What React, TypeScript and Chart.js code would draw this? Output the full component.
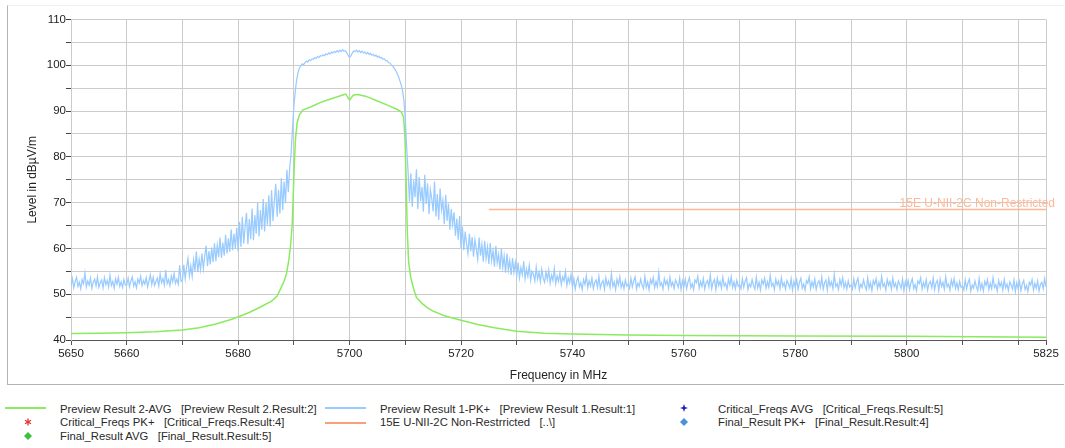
import React, { useEffect, useRef } from 'react';
import { Chart, registerables } from 'chart.js';

Chart.register(...registerables);

// Sweep definition of the peak trace
const PK_START_MHZ = 5650;
const PK_STEP_MHZ = 0.25;

// Preview Result 1-PK+ levels (dBµV/m), one value per 0.25 MHz from 5650 MHz (one row = 5 MHz)
const PK_LEVELS = [
  51.9, 53.4, 51.4, 52.8, 53.7, 51.7, 52.6, 51.2, 53.2, 52.3, 54.6, 51.6, 52.9, 52.0, 53.5, 51.3, 52.7, 53.3, 51.8, 53.8,
  51.5, 52.5, 53.1, 51.4, 53.6, 52.1, 53.0, 51.6, 54.1, 51.9, 52.8, 51.3, 53.4, 52.2, 53.7, 51.7, 52.7, 51.5, 53.2, 52.0,
  52.0, 53.5, 51.6, 52.9, 53.8, 51.8, 52.7, 51.4, 53.3, 52.4, 53.9, 51.9, 53.0, 52.2, 53.6, 51.6, 52.9, 54.2, 52.1, 53.7,
  51.9, 52.8, 53.5, 51.8, 54.4, 52.5, 53.4, 52.0, 55.3, 52.3, 53.2, 51.9, 54.0, 52.7, 54.5, 52.4, 53.3, 52.2, 56.3, 52.8,
  53.0, 56.4, 53.4, 55.9, 57.8, 54.0, 56.2, 53.9, 57.5, 55.1, 59.3, 54.8, 57.6, 55.4, 58.9, 55.6, 58.3, 60.6, 56.1, 59.4,
  56.5, 60.2, 57.0, 61.1, 57.2, 60.7, 58.1, 62.4, 57.9, 61.3, 58.4, 63.0, 58.9, 62.2, 59.3, 64.1, 59.6, 63.2, 60.1, 64.5,
  59.4, 65.8, 60.3, 66.9, 61.1, 64.7, 67.8, 60.9, 66.4, 62.0, 68.7, 61.8, 67.3, 63.2, 69.9, 62.6, 68.4, 64.1, 70.8, 63.7,
  69.9, 65.2, 71.6, 64.8, 72.7, 66.0, 70.4, 74.1, 66.9, 72.8, 67.6, 75.3, 68.4, 74.6, 69.9, 77.2, 72.3, 77.5, 80.6, 86.0,
  91.0, 94.3, 96.8, 98.4, 99.4, 99.9, 100.3, 100.1, 100.6, 100.9, 100.7, 101.2, 101.0, 101.4, 101.3, 101.7, 101.5, 101.9, 101.7, 102.1,
  102.0, 102.3, 102.1, 102.5, 102.3, 102.7, 102.5, 102.9, 102.7, 103.0, 102.8, 103.2, 102.9, 103.3, 103.0, 103.4, 103.1, 103.2, 102.7, 102.2,
  101.7, 102.1, 102.7, 103.1, 103.0, 103.3, 102.9, 103.2, 102.8, 103.1, 102.7, 102.9, 102.5, 102.8, 102.4, 102.6, 102.2, 102.4, 102.0, 102.2,
  101.8, 102.0, 101.6, 101.7, 101.3, 101.4, 101.0, 101.0, 100.6, 100.5, 100.1, 99.8, 99.4, 98.9, 98.3, 97.6, 96.7, 95.8, 94.5, 92.3,
  88.5, 82.0, 76.8, 70.2, 76.4, 69.1, 74.9, 71.2, 77.3, 68.6, 75.6, 70.3, 73.4, 68.0, 76.1, 69.7, 74.2, 67.5, 72.8, 70.9,
  68.1, 74.6, 67.0, 71.9, 66.2, 73.1, 68.4, 70.5, 65.3, 71.7, 66.0, 69.8, 64.1, 68.6, 65.2, 67.9, 62.8, 66.5, 61.9, 67.1,
  60.1, 64.8, 59.6, 63.7, 61.0, 58.9, 63.2, 59.4, 62.5, 58.2, 61.9, 59.8, 57.6, 62.4, 58.4, 60.9, 57.1, 61.6, 57.8, 60.3,
  56.6, 61.2, 57.3, 59.5, 56.0, 60.6, 56.8, 58.7, 55.4, 59.9, 55.9, 58.3, 54.7, 58.9, 55.3, 57.4, 54.2, 57.9, 54.8, 56.9,
  54.0, 56.9, 53.6, 55.8, 54.3, 57.2, 53.4, 55.5, 53.9, 56.3, 53.1, 55.0, 54.4, 52.9, 55.9, 53.3, 54.8, 52.7, 55.4, 53.5,
  52.6, 54.9, 53.2, 55.3, 52.4, 54.2, 53.0, 55.6, 52.3, 54.0, 52.8, 54.6, 52.1, 53.8, 52.9, 55.0, 51.9, 53.6, 52.5, 54.3,
  51.5, 53.4, 51.1, 52.8, 53.7, 51.6, 52.5, 51.0, 53.2, 52.1, 54.0, 51.4, 52.9, 51.8, 53.5, 51.2, 52.6, 53.1, 51.5, 53.9,
  51.3, 52.4, 53.0, 51.1, 53.6, 52.0, 52.9, 51.4, 54.5, 51.7, 52.7, 51.0, 53.3, 52.0, 53.8, 51.5, 52.6, 51.2, 53.1, 51.8,
  52.2, 51.3, 53.5, 51.6, 52.9, 53.8, 51.1, 52.4, 51.7, 53.3, 52.0, 51.2, 53.9, 51.5, 52.7, 51.0, 53.2, 52.3, 53.6, 51.4,
  52.8, 51.6, 54.7, 51.9, 52.5, 51.1, 53.4, 52.1, 53.0, 51.3, 53.7, 51.8, 52.6, 51.2, 53.1, 52.4, 51.5, 53.5, 51.0, 52.9,
  51.6, 53.3, 51.2, 52.7, 53.6, 51.4, 52.3, 51.0, 53.1, 52.5, 53.9, 51.3, 52.8, 51.7, 53.4, 51.1, 52.5, 53.0, 51.6, 54.2,
  51.2, 52.6, 53.2, 51.0, 53.5, 51.9, 52.8, 51.3, 53.7, 51.8, 52.4, 51.1, 53.3, 52.0, 53.8, 51.5, 52.7, 51.2, 53.0, 51.7,
  52.1, 51.2, 53.4, 51.5, 52.8, 53.6, 51.0, 52.3, 51.6, 53.2, 51.9, 51.1, 53.7, 51.4, 52.6, 50.9, 53.1, 52.2, 53.5, 51.3,
  52.7, 51.5, 54.1, 51.8, 52.4, 51.0, 53.3, 52.0, 52.9, 51.2, 53.6, 51.7, 52.5, 51.1, 53.0, 52.3, 51.4, 53.4, 50.9, 52.8,
  51.5, 53.2, 51.1, 52.6, 53.5, 51.3, 52.2, 50.9, 53.0, 52.4, 53.8, 51.2, 52.7, 51.6, 53.3, 51.0, 52.4, 52.9, 51.5, 53.7,
  51.1, 52.5, 53.1, 50.9, 53.4, 51.8, 52.7, 51.2, 54.3, 51.7, 52.3, 51.0, 53.2, 51.9, 53.6, 51.4, 52.6, 51.1, 52.9, 51.6,
  52.0, 51.1, 53.3, 51.4, 52.7, 53.5, 50.9, 52.2, 51.5, 53.1, 51.8, 51.0, 53.6, 51.3, 52.5, 50.8, 53.0, 52.1, 53.4, 51.2,
  52.6, 51.4, 53.9, 51.7, 52.3, 50.9, 53.2, 51.9, 52.8, 51.1, 53.5, 51.6, 52.4, 51.0, 52.9, 52.2, 51.3, 53.3, 50.8, 52.7,
  51.4, 53.0, 51.0, 52.5, 53.4, 51.2, 52.1, 50.8, 52.9, 52.3, 53.6, 51.1, 52.6, 51.5, 53.2, 50.9, 52.3, 52.8, 51.4, 53.5,
  51.0, 52.4, 53.0, 50.8, 53.3, 51.7, 52.6, 51.1, 53.8, 51.6, 52.2, 50.9, 53.1, 51.8, 53.4, 51.3, 52.5, 51.0, 52.8, 51.5,
  51.8, 50.9, 53.1, 51.2, 52.5, 53.3, 50.7, 52.0, 51.3, 52.9, 51.6, 50.8, 53.4, 51.1, 52.3, 50.7, 52.8, 51.9, 53.2, 51.0,
  52.4, 51.2, 53.6, 51.5, 52.1, 50.7, 53.0, 51.7, 52.6, 50.9, 53.2, 51.4, 52.2, 50.8, 52.7, 52.0, 51.1, 53.1, 50.6, 52.5,
  51.2, 52.8, 50.8, 52.3, 53.0, 51.0, 51.9, 50.6, 52.6, 52.0, 53.2, 50.9, 52.4, 51.3, 52.9, 50.7, 52.1, 52.6, 51.2, 53.4,
  51.6,
];

// Preview Result 2-AVG
const AVG_FREQS = [
  5650, 5655, 5660, 5665, 5670, 5673, 5676, 5679, 5682, 5684, 5686, 5687, 5687.7, 5688.3, 5688.7, 5689.1,
  5689.4, 5689.7, 5689.9, 5690.1, 5690.3, 5690.6, 5691, 5691.6, 5693, 5695, 5697, 5698.5, 5699.3, 5699.7,
  5700, 5700.3, 5700.7, 5701.5, 5703, 5705, 5707, 5708.5, 5709.3, 5709.7, 5709.95, 5710.15, 5710.35, 5710.6,
  5711, 5711.5, 5712, 5713, 5714, 5715, 5717, 5720, 5723, 5726, 5730, 5735, 5740, 5750, 5760, 5780, 5800, 5825,
];
const AVG_LEVELS = [
  41.4, 41.5, 41.6, 41.8, 42.2, 42.7, 43.5, 44.6, 46.0, 47.2, 48.5, 49.6, 51.4, 53.0, 54.6, 57.5,
  60.5, 65.0, 72.0, 79.0, 84.0, 87.5, 89.2, 90.2, 90.9, 92.0, 92.8, 93.4, 93.7, 93.0,
  92.4, 92.9, 93.5, 93.6, 93.2, 92.2, 91.2, 90.4, 89.8, 88.6, 84.0, 75.0, 64.0, 57.0,
  53.5, 51.2, 49.3, 48.0, 47.0, 46.3, 45.3, 44.3, 43.4, 42.7, 41.9, 41.5, 41.3, 41.1, 41.0, 40.9, 40.8, 40.6,
];

// Limit line
const LIMIT_NAME = '15E U-NII-2C Non-Restricted';
const LIMIT_FREQS = [5725, 5825];
const LIMIT_LEVELS = [68.5, 68.5];

// Axes
const X_MIN = 5650;
const X_MAX = 5825;
const X_TICKS = [5650, 5660, 5670, 5680, 5690, 5700, 5710, 5720, 5730, 5740, 5750, 5760, 5770, 5780, 5790, 5800, 5810, 5820, 5825];
const X_LABELS = [5650, 5660, 5680, 5700, 5720, 5740, 5760, 5780, 5800, 5825];
const Y_MIN = 40;
const Y_MAX = 110;
const Y_STEP = 5;
const Y_LABEL_STEP = 10;

const FONT = "'Liberation Sans', Arial, Helvetica, sans-serif";
const GREEN = 'rgb(138, 234, 96)';
const BLUE = 'rgb(153, 203, 255)';
const ORANGE = 'rgb(255, 184, 150)';
const ORANGE_LEGEND = 'rgb(248, 160, 120)';

const legendText: React.CSSProperties = {
  position: 'absolute',
  fontFamily: FONT,
  fontSize: '11.3px',
  lineHeight: '13px',
  color: '#2a2a2a',
  whiteSpace: 'pre',
};

function LineSym({ x, y, color, w }: { x: number; y: number; color: string; w: number }) {
  return <div style={{ position: 'absolute', left: x, top: y - w / 2, width: 41, height: w, background: color }} />;
}

function Diamond({ cx, cy, color }: { cx: number; cy: number; color: string }) {
  return (
    <svg style={{ position: 'absolute', left: cx - 5, top: cy - 5 }} width={10} height={10}>
      <polygon points="5,1 9,5 5,9 1,5" fill={color} />
    </svg>
  );
}

function Asterisk({ cx, cy, color }: { cx: number; cy: number; color: string }) {
  return (
    <svg style={{ position: 'absolute', left: cx - 5, top: cy - 5 }} width={10} height={10}>
      <g stroke={color} strokeWidth={1.3}>
        <line x1={5} y1={1.5} x2={5} y2={8.5} />
        <line x1={2} y1={3.3} x2={8} y2={6.7} />
        <line x1={2} y1={6.7} x2={8} y2={3.3} />
      </g>
    </svg>
  );
}

function Star({ cx, cy, color }: { cx: number; cy: number; color: string }) {
  return (
    <svg style={{ position: 'absolute', left: cx - 5, top: cy - 5 }} width={10} height={10}>
      <polygon points="5,1 6,4 9,5 6,6 5,9 4,6 1,5 4,4" fill={color} />
    </svg>
  );
}

export default function App() {
  const canvasRef = useRef<HTMLCanvasElement | null>(null);

  useEffect(() => {
    if (!canvasRef.current) return;
    const pkData = PK_LEVELS.map((v, i) => ({ x: PK_START_MHZ + i * PK_STEP_MHZ, y: v }));
    const avgData = AVG_FREQS.map((f, i) => ({ x: f, y: AVG_LEVELS[i] }));
    const limitData = LIMIT_FREQS.map((f, i) => ({ x: f, y: LIMIT_LEVELS[i] }));

    const limitLabel = {
      id: 'limitLabel',
      afterDatasetsDraw(chart: any) {
        const meta = chart.getDatasetMeta(2);
        const pts = meta.data;
        if (!pts || !pts.length) return;
        const last = pts[pts.length - 1];
        const ctx = chart.ctx;
        ctx.save();
        ctx.font = `12px ${FONT}`;
        ctx.fillStyle = ORANGE;
        ctx.textAlign = 'right';
        ctx.textBaseline = 'alphabetic';
        ctx.fillText(LIMIT_NAME, last.x + 9, last.y - 3);
        ctx.restore();
      },
    };

    const chart = new Chart(canvasRef.current, {
      type: 'line',
      data: {
        datasets: [
          { label: 'Preview Result 1-PK+', data: pkData, borderColor: BLUE, borderWidth: 1.25, pointRadius: 0, tension: 0 },
          { label: 'Preview Result 2-AVG', data: avgData, borderColor: GREEN, borderWidth: 1.5, pointRadius: 0, tension: 0 },
          { label: LIMIT_NAME, data: limitData, borderColor: ORANGE, borderWidth: 1.5, pointRadius: 0, tension: 0 },
        ],
      },
      options: {
        animation: false,
        responsive: false,
        maintainAspectRatio: false,
        events: [],
        layout: { padding: { left: 0, right: 19, top: 19.5, bottom: 0 } },
        plugins: { legend: { display: false }, tooltip: { enabled: false } },
        scales: {
          x: {
            type: 'linear',
            min: X_MIN,
            max: X_MAX,
            afterBuildTicks: (s: any) => {
              s.ticks = X_TICKS.map((v) => ({ value: v }));
            },
            afterFit: (s: any) => {
              s.height = 50;
            },
            ticks: {
              autoSkip: false,
              maxRotation: 0,
              minRotation: 0,
              padding: 2,
              color: '#222',
              font: { family: FONT, size: 11.5 },
              callback: (v: any) => (X_LABELS.includes(Number(v)) ? String(v) : ''),
            },
            grid: { color: '#cccccc', tickColor: '#555', tickLength: 5, lineWidth: 1 },
            border: { color: '#555', width: 1 },
            title: {
              display: true,
              text: 'Frequency in MHz',
              color: '#222',
              font: { family: FONT, size: 12 },
              padding: { top: 0, bottom: 7 },
            },
          },
          y: {
            type: 'linear',
            min: Y_MIN,
            max: Y_MAX,
            afterFit: (s: any) => {
              s.width = 71;
            },
            ticks: {
              stepSize: Y_STEP,
              padding: 0,
              color: '#222',
              font: { family: FONT, size: 11.5 },
              callback: (v: any) => (Number(v) % Y_LABEL_STEP === 0 ? String(v) : ''),
            },
            grid: { color: '#cccccc', tickColor: '#444', tickLength: 5, lineWidth: 1 },
            border: { color: '#cccccc', width: 1 },
            title: {
              display: true,
              text: 'Level in dBµV/m',
              color: '#222',
              font: { family: FONT, size: 12 },
              padding: { top: 25, bottom: 0 },
            },
          },
        },
      },
      plugins: [limitLabel],
    } as any);

    return () => chart.destroy();
  }, []);

  return (
    <div style={{ position: 'absolute', left: 0, top: 0, width: 1065, height: 448, background: '#fff', overflow: 'hidden' }}>
      <div
        style={{
          position: 'absolute',
          left: 7,
          top: 5,
          width: 1056,
          height: 378,
          borderLeft: '1px solid #b4b4b4',
          borderBottom: '1px solid #b4b4b4',
          borderTop: '1px solid #f0f0f0',
        }}
      />
      <canvas ref={canvasRef} width={1065} height={390} style={{ position: 'absolute', left: 0, top: 0, display: 'block' }} />

      <LineSym x={5} y={408} color={GREEN} w={1.5} />
      <div style={{ ...legendText, left: 60, top: 402.5 }}>{'Preview Result 2-AVG   [Preview Result 2.Result:2]'}</div>
      <LineSym x={325} y={408} color={BLUE} w={1.5} />
      <div style={{ ...legendText, left: 380, top: 402.5 }}>{'Preview Result 1-PK+   [Preview Result 1.Result:1]'}</div>
      <Star cx={684} cy={408} color="#1f1fb0" />
      <div style={{ ...legendText, left: 718, top: 402.5 }}>{'Critical_Freqs AVG   [Critical_Freqs.Result:5]'}</div>

      <Asterisk cx={28} cy={422} color="#e03030" />
      <div style={{ ...legendText, left: 60, top: 416 }}>{'Critical_Freqs PK+   [Critical_Freqs.Result:4]'}</div>
      <LineSym x={325} y={422.5} color={ORANGE_LEGEND} w={2} />
      <div style={{ ...legendText, left: 380, top: 416 }}>{'15E U-NII-2C Non-Restrricted   [..\\]'}</div>
      <Diamond cx={684} cy={422} color="#4a90dc" />
      <div style={{ ...legendText, left: 718, top: 416 }}>{'Final_Result PK+   [Final_Result.Result:4]'}</div>

      <Diamond cx={28} cy={435.5} color="#3fbf3f" />
      <div style={{ ...legendText, left: 60, top: 429.5 }}>{'Final_Result AVG   [Final_Result.Result:5]'}</div>
    </div>
  );
}
